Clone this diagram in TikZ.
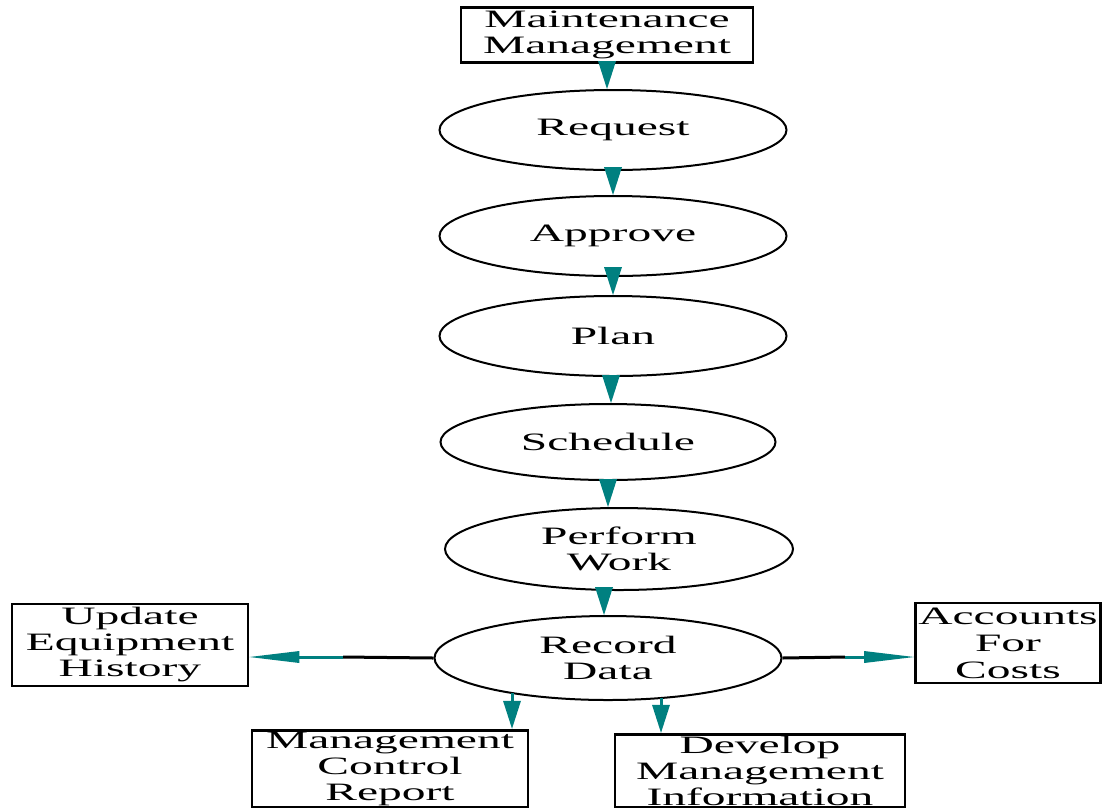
\documentclass[tikz,border=0pt]{standalone}
\usepackage{fontspec}
\setmainfont[FakeStretch=1.9]{Liberation Serif}
\usetikzlibrary{arrows.meta,shapes.geometric}
\definecolor{flowteal}{RGB}{0,128,128}

\begin{document}
\begin{tikzpicture}[
    x=1pt, y=1pt,
    every node/.style={font=\fontsize{25}{26}\selectfont, align=center},
    proc/.style={draw, ellipse, line width=2pt, minimum width=347pt, minimum height=80pt, inner sep=0pt},
    box/.style={draw, rectangle, line width=2.8pt, inner xsep=0pt, inner ysep=2pt},
    vflow/.style={draw=flowteal, line width=3pt, -{Triangle[length=28pt, width=18pt, line width=0pt]}},
    hflow/.style={draw=flowteal, line width=3pt, -{Triangle[length=50pt, width=12pt, line width=0pt]}},
    link/.style={draw, line width=3pt}
]
\useasboundingbox (0,0) rectangle (1102,-807);

% main chain
\node[box, minimum width=292pt, minimum height=55pt] (mm) at (607,-35) {Maintenance\\Management};
\node[proc] (req) at (613,-130) {Request};
\node[proc] (app) at (613,-236) {Approve};
\node[proc] (pln) at (613,-336) {Plan};
\node[proc, minimum width=335pt, minimum height=76pt] (sch) at (608,-442) {Schedule};
\node[proc, minimum width=348pt, minimum height=82pt] (prf) at (619,-549) {Perform\\Work};
\node[proc, minimum width=347pt, minimum height=84pt] (rec) at (608,-658) {Record\\Data};

% outputs
\node[box, minimum width=236pt, minimum height=82pt] (upd) at (130,-645) {Update\\Equipment\\History};
\node[box, minimum width=185pt, minimum height=80pt, font=\fontsize{25}{27}\selectfont] (acc) at (1008,-643) {Accounts\\For\\Costs};
\node[box, minimum width=276pt] (mcr) at (390,-769) {Management\\Control\\Report};
\node[box, minimum width=290pt] (dmi) at (760,-771) {Develop\\Management\\Information};

\coordinate (lm) at (343,-657);
\coordinate (rm) at (845,-657);
\coordinate (b1) at (512,-693);
\coordinate (b2) at (661,-698);

\draw[vflow] (mm.south) -- (mm.south |- req.north);
\draw[vflow] (req.south) -- (app.north);
\draw[vflow] (app.south) -- (pln.north);
\draw[vflow] ([xshift=-2pt]pln.south) -- ([xshift=-2pt]pln.south |- sch.north);
\draw[vflow] (sch.south) -- (sch.south |- prf.north);
\draw[vflow] ([xshift=-4pt]sch.south |- prf.south) -- ([xshift=-4pt]sch.south |- rec.north);

\draw[link] (rec.west) -- (lm);
\draw[hflow] (lm) -- (lm -| upd.east);
\draw[link] (rec.east) -- (rm);
\draw[hflow] (rm) -- (rm -| acc.west);
\draw[vflow] (b1) -- (b1 |- mcr.north);
\draw[vflow] (b2) -- (b2 |- dmi.north);
\end{tikzpicture}
\end{document}
